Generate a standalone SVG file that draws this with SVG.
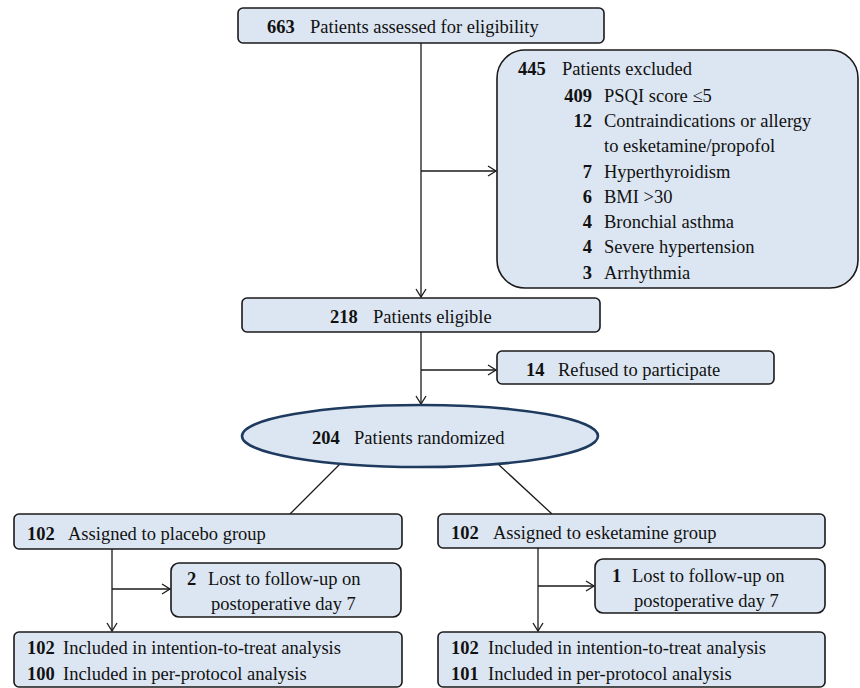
<svg xmlns="http://www.w3.org/2000/svg" width="860" height="688" viewBox="0 0 860 688">
<defs>
<style>
.box{fill:#dce6f2;stroke:#1a1a1a;stroke-width:1.6}
.ell{fill:#dce6f2;stroke:#1f3a5f;stroke-width:2.6}
.ln{fill:none;stroke:#1a1a1a;stroke-width:1.3}
text{font-family:'Liberation Serif',serif !important;font-size:18.5px;fill:#111}
.b{font-weight:bold}
</style>
<marker id="ah" markerWidth="12" markerHeight="12" refX="9" refY="6" orient="auto" markerUnits="userSpaceOnUse">
<path d="M1,1 L9,6 L1,11" fill="none" stroke="#1a1a1a" stroke-width="1.3"/>
</marker>
</defs>
<rect width="860" height="688" fill="#ffffff"/>
<g id="connectors">
<line class="ln" x1="421" y1="43" x2="421" y2="297" marker-end="url(#ah)"/>
<line class="ln" x1="421" y1="171" x2="496" y2="171" marker-end="url(#ah)"/>
<line class="ln" x1="421" y1="332" x2="421" y2="404" marker-end="url(#ah)"/>
<line class="ln" x1="421" y1="370" x2="496" y2="370" marker-end="url(#ah)"/>
<line class="ln" x1="340" y1="464" x2="290" y2="514"/>
<line class="ln" x1="498" y1="464" x2="552" y2="514"/>
<line class="ln" x1="112" y1="549" x2="112" y2="631" marker-end="url(#ah)"/>
<line class="ln" x1="112" y1="589" x2="170" y2="589" marker-end="url(#ah)"/>
<line class="ln" x1="538" y1="548" x2="538" y2="631" marker-end="url(#ah)"/>
<line class="ln" x1="538" y1="586" x2="594" y2="586" marker-end="url(#ah)"/>
</g>
<g id="assessed">
<rect class="box" x="238" y="8" width="366" height="35" rx="5"/>
<text style="font-family:'Liberation Serif',serif" x="267" y="33"><tspan class="b">663</tspan><tspan x="310">Patients assessed for eligibility</tspan></text>
</g>
<g id="excluded">
<rect class="box" x="497" y="50" width="361" height="238" rx="28"/>
<text style="font-family:'Liberation Serif',serif" class="b" x="518" y="75">445</text>
<text style="font-family:'Liberation Serif',serif" x="562" y="75">Patients excluded</text>
<text style="font-family:'Liberation Serif',serif" class="b" x="592" y="102" text-anchor="end">409</text>
<text style="font-family:'Liberation Serif',serif" x="604" y="102">PSQI score ≤5</text>
<text style="font-family:'Liberation Serif',serif" class="b" x="592" y="127" text-anchor="end">12</text>
<text style="font-family:'Liberation Serif',serif" x="604" y="127">Contraindications or allergy</text>
<text style="font-family:'Liberation Serif',serif" x="604" y="152">to esketamine/propofol</text>
<text style="font-family:'Liberation Serif',serif" class="b" x="592" y="177.5" text-anchor="end">7</text>
<text style="font-family:'Liberation Serif',serif" x="604" y="177.5">Hyperthyroidism</text>
<text style="font-family:'Liberation Serif',serif" class="b" x="592" y="203" text-anchor="end">6</text>
<text style="font-family:'Liberation Serif',serif" x="604" y="203">BMI &gt;30</text>
<text style="font-family:'Liberation Serif',serif" class="b" x="592" y="228" text-anchor="end">4</text>
<text style="font-family:'Liberation Serif',serif" x="604" y="228">Bronchial asthma</text>
<text style="font-family:'Liberation Serif',serif" class="b" x="592" y="253" text-anchor="end">4</text>
<text style="font-family:'Liberation Serif',serif" x="604" y="253">Severe hypertension</text>
<text style="font-family:'Liberation Serif',serif" class="b" x="592" y="279" text-anchor="end">3</text>
<text style="font-family:'Liberation Serif',serif" x="604" y="279">Arrhythmia</text>
</g>
<g id="eligible">
<rect class="box" x="242" y="298" width="358" height="34" rx="5"/>
<text style="font-family:'Liberation Serif',serif" x="330" y="323"><tspan class="b">218</tspan><tspan x="373">Patients eligible</tspan></text>
</g>
<g id="refused">
<rect class="box" x="497" y="351" width="277" height="33" rx="5"/>
<text style="font-family:'Liberation Serif',serif" x="526" y="376"><tspan class="b">14</tspan><tspan x="558">Refused to participate</tspan></text>
</g>
<g id="randomized">
<ellipse class="ell" cx="420" cy="436" rx="178" ry="31"/>
<text style="font-family:'Liberation Serif',serif" x="312" y="444"><tspan class="b">204</tspan><tspan x="354">Patients randomized</tspan></text>
</g>
<g id="placebo">
<rect class="box" x="14" y="514" width="388" height="35" rx="5"/>
<text style="font-family:'Liberation Serif',serif" x="27" y="540"><tspan class="b">102</tspan><tspan x="68">Assigned to placebo group</tspan></text>
</g>
<g id="lost-placebo">
<rect class="box" x="171" y="563" width="230" height="54" rx="8"/>
<text style="font-family:'Liberation Serif',serif" x="187" y="585"><tspan class="b">2</tspan><tspan x="208">Lost to follow-up on</tspan></text>
<text style="font-family:'Liberation Serif',serif" x="211" y="610">postoperative day 7</text>
</g>
<g id="included-placebo">
<rect class="box" x="14" y="632" width="388" height="55" rx="5"/>
<text style="font-family:'Liberation Serif',serif" x="27" y="654"><tspan class="b">102</tspan><tspan x="63">Included in intention-to-treat analysis</tspan></text>
<text style="font-family:'Liberation Serif',serif" x="27" y="680"><tspan class="b">100</tspan><tspan x="63">Included in per-protocol analysis</tspan></text>
</g>
<g id="esketamine">
<rect class="box" x="438" y="514" width="387" height="34" rx="5"/>
<text style="font-family:'Liberation Serif',serif" x="451" y="539"><tspan class="b">102</tspan><tspan x="493">Assigned to esketamine group</tspan></text>
</g>
<g id="lost-esketamine">
<rect class="box" x="595" y="559" width="230" height="54" rx="8"/>
<text style="font-family:'Liberation Serif',serif" x="612" y="582"><tspan class="b">1</tspan><tspan x="632">Lost to follow-up on</tspan></text>
<text style="font-family:'Liberation Serif',serif" x="634" y="607">postoperative day 7</text>
</g>
<g id="included-esketamine">
<rect class="box" x="438" y="632" width="387" height="55" rx="5"/>
<text style="font-family:'Liberation Serif',serif" x="451" y="654"><tspan class="b">102</tspan><tspan x="488">Included in intention-to-treat analysis</tspan></text>
<text style="font-family:'Liberation Serif',serif" x="451" y="680"><tspan class="b">101</tspan><tspan x="488">Included in per-protocol analysis</tspan></text>
</g>
</svg>
